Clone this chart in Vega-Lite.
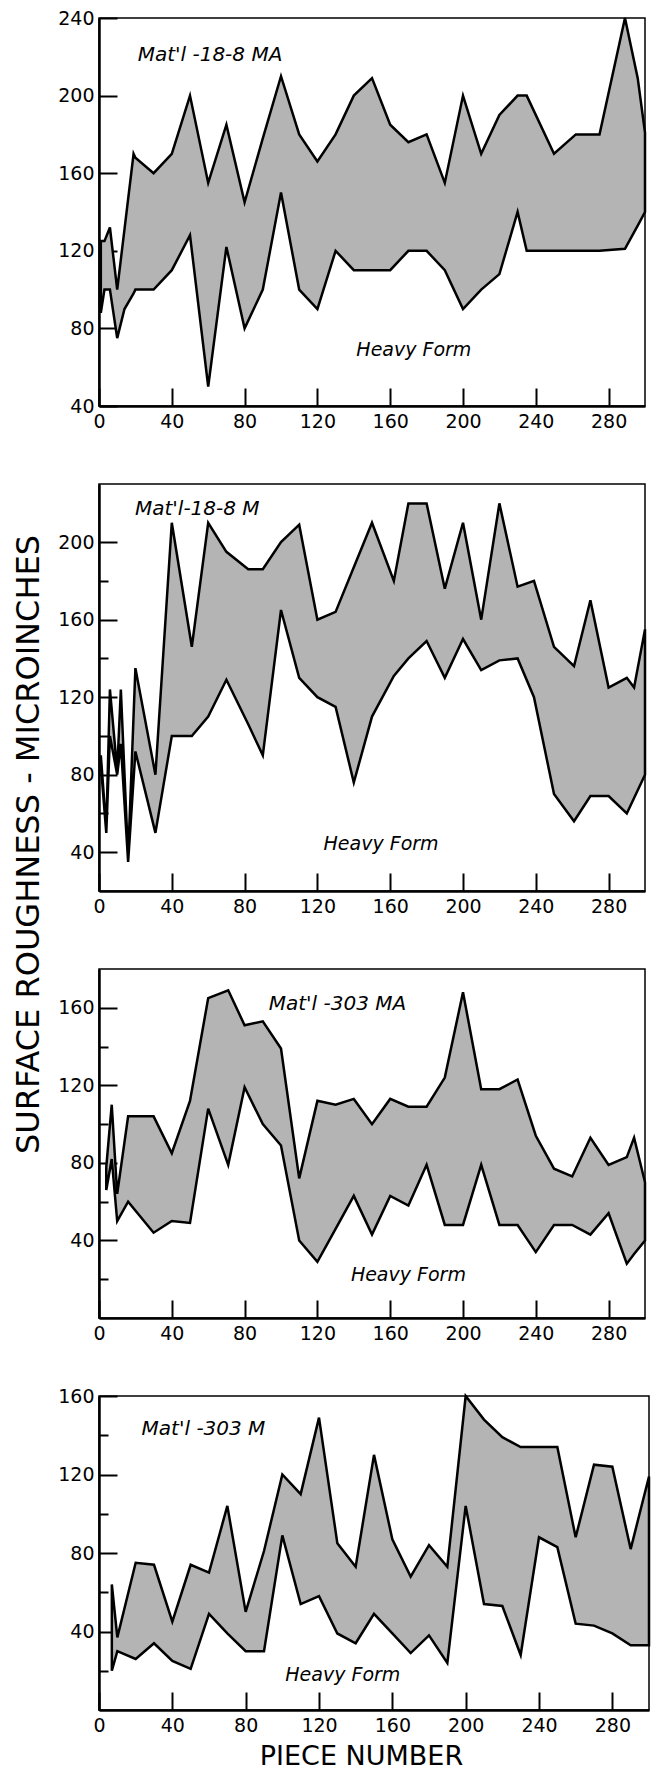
{
  "$schema": "https://vega.github.io/schema/vega-lite/v6.json",
  "background": "white",
  "padding": {"left": 11, "top": 8, "right": 2, "bottom": 4},
  "datasets": {
    "roughness": [
      {"material": "18-8 MA", "piece": 1, "low": 88, "high": 125},
      {"material": "18-8 MA", "piece": 3, "low": 100, "high": 125},
      {"material": "18-8 MA", "piece": 6, "low": 100, "high": 132},
      {"material": "18-8 MA", "piece": 10, "low": 75, "high": 100},
      {"material": "18-8 MA", "piece": 14, "low": 90, "high": 131},
      {"material": "18-8 MA", "piece": 19, "low": 98, "high": 170},
      {"material": "18-8 MA", "piece": 20, "low": 100, "high": 168},
      {"material": "18-8 MA", "piece": 30, "low": 100, "high": 160},
      {"material": "18-8 MA", "piece": 40, "low": 110, "high": 170},
      {"material": "18-8 MA", "piece": 50, "low": 128, "high": 200},
      {"material": "18-8 MA", "piece": 60, "low": 50, "high": 155},
      {"material": "18-8 MA", "piece": 70, "low": 122, "high": 185},
      {"material": "18-8 MA", "piece": 80, "low": 80, "high": 145},
      {"material": "18-8 MA", "piece": 90, "low": 100, "high": 178},
      {"material": "18-8 MA", "piece": 100, "low": 150, "high": 210},
      {"material": "18-8 MA", "piece": 110, "low": 100, "high": 180},
      {"material": "18-8 MA", "piece": 120, "low": 90, "high": 166},
      {"material": "18-8 MA", "piece": 130, "low": 120, "high": 180},
      {"material": "18-8 MA", "piece": 140, "low": 110, "high": 200},
      {"material": "18-8 MA", "piece": 150, "low": 110, "high": 209},
      {"material": "18-8 MA", "piece": 160, "low": 110, "high": 185},
      {"material": "18-8 MA", "piece": 170, "low": 120, "high": 176},
      {"material": "18-8 MA", "piece": 180, "low": 120, "high": 180},
      {"material": "18-8 MA", "piece": 190, "low": 110, "high": 155},
      {"material": "18-8 MA", "piece": 200, "low": 90, "high": 200},
      {"material": "18-8 MA", "piece": 210, "low": 100, "high": 170},
      {"material": "18-8 MA", "piece": 220, "low": 108, "high": 190},
      {"material": "18-8 MA", "piece": 230, "low": 140, "high": 200},
      {"material": "18-8 MA", "piece": 235, "low": 120, "high": 200},
      {"material": "18-8 MA", "piece": 250, "low": 120, "high": 170},
      {"material": "18-8 MA", "piece": 262, "low": 120, "high": 180},
      {"material": "18-8 MA", "piece": 275, "low": 120, "high": 180},
      {"material": "18-8 MA", "piece": 289, "low": 121, "high": 240},
      {"material": "18-8 MA", "piece": 296, "low": 133, "high": 209},
      {"material": "18-8 MA", "piece": 300, "low": 140, "high": 181},

      {"material": "18-8 M", "piece": 1, "low": 85, "high": 90},
      {"material": "18-8 M", "piece": 4, "low": 50, "high": 52},
      {"material": "18-8 M", "piece": 6, "low": 100, "high": 124},
      {"material": "18-8 M", "piece": 10, "low": 80, "high": 82},
      {"material": "18-8 M", "piece": 12, "low": 96, "high": 124},
      {"material": "18-8 M", "piece": 16, "low": 35, "high": 37},
      {"material": "18-8 M", "piece": 20, "low": 92, "high": 135},
      {"material": "18-8 M", "piece": 31, "low": 50, "high": 80},
      {"material": "18-8 M", "piece": 40, "low": 100, "high": 210},
      {"material": "18-8 M", "piece": 51, "low": 100, "high": 146},
      {"material": "18-8 M", "piece": 60, "low": 110, "high": 210},
      {"material": "18-8 M", "piece": 70, "low": 129, "high": 195},
      {"material": "18-8 M", "piece": 82, "low": 106, "high": 186},
      {"material": "18-8 M", "piece": 90, "low": 90, "high": 186},
      {"material": "18-8 M", "piece": 100, "low": 165, "high": 200},
      {"material": "18-8 M", "piece": 110, "low": 130, "high": 209},
      {"material": "18-8 M", "piece": 120, "low": 120, "high": 160},
      {"material": "18-8 M", "piece": 130, "low": 115, "high": 164},
      {"material": "18-8 M", "piece": 140, "low": 76, "high": 187},
      {"material": "18-8 M", "piece": 150, "low": 110, "high": 210},
      {"material": "18-8 M", "piece": 162, "low": 131, "high": 180},
      {"material": "18-8 M", "piece": 170, "low": 140, "high": 220},
      {"material": "18-8 M", "piece": 180, "low": 149, "high": 220},
      {"material": "18-8 M", "piece": 190, "low": 130, "high": 176},
      {"material": "18-8 M", "piece": 200, "low": 150, "high": 210},
      {"material": "18-8 M", "piece": 210, "low": 134, "high": 160},
      {"material": "18-8 M", "piece": 220, "low": 139, "high": 220},
      {"material": "18-8 M", "piece": 230, "low": 140, "high": 177},
      {"material": "18-8 M", "piece": 239, "low": 120, "high": 180},
      {"material": "18-8 M", "piece": 250, "low": 70, "high": 146},
      {"material": "18-8 M", "piece": 261, "low": 56, "high": 136},
      {"material": "18-8 M", "piece": 270, "low": 69, "high": 170},
      {"material": "18-8 M", "piece": 280, "low": 69, "high": 125},
      {"material": "18-8 M", "piece": 290, "low": 60, "high": 130},
      {"material": "18-8 M", "piece": 294, "low": 68, "high": 125},
      {"material": "18-8 M", "piece": 300, "low": 80, "high": 155},

      {"material": "303 MA", "piece": 4, "low": 66, "high": 78},
      {"material": "303 MA", "piece": 7, "low": 82, "high": 110},
      {"material": "303 MA", "piece": 10, "low": 50, "high": 64},
      {"material": "303 MA", "piece": 16, "low": 60, "high": 104},
      {"material": "303 MA", "piece": 30, "low": 44, "high": 104},
      {"material": "303 MA", "piece": 40, "low": 50, "high": 85},
      {"material": "303 MA", "piece": 50, "low": 49, "high": 112},
      {"material": "303 MA", "piece": 60, "low": 108, "high": 165},
      {"material": "303 MA", "piece": 71, "low": 79, "high": 169},
      {"material": "303 MA", "piece": 80, "low": 119, "high": 151},
      {"material": "303 MA", "piece": 90, "low": 100, "high": 153},
      {"material": "303 MA", "piece": 100, "low": 89, "high": 139},
      {"material": "303 MA", "piece": 110, "low": 40, "high": 72},
      {"material": "303 MA", "piece": 120, "low": 29, "high": 112},
      {"material": "303 MA", "piece": 130, "low": 46, "high": 110},
      {"material": "303 MA", "piece": 140, "low": 63, "high": 113},
      {"material": "303 MA", "piece": 150, "low": 43, "high": 100},
      {"material": "303 MA", "piece": 160, "low": 63, "high": 113},
      {"material": "303 MA", "piece": 170, "low": 58, "high": 109},
      {"material": "303 MA", "piece": 180, "low": 79, "high": 109},
      {"material": "303 MA", "piece": 190, "low": 48, "high": 124},
      {"material": "303 MA", "piece": 200, "low": 48, "high": 168},
      {"material": "303 MA", "piece": 210, "low": 79, "high": 118},
      {"material": "303 MA", "piece": 220, "low": 48, "high": 118},
      {"material": "303 MA", "piece": 230, "low": 48, "high": 123},
      {"material": "303 MA", "piece": 240, "low": 34, "high": 94},
      {"material": "303 MA", "piece": 250, "low": 48, "high": 77},
      {"material": "303 MA", "piece": 260, "low": 48, "high": 73},
      {"material": "303 MA", "piece": 270, "low": 43, "high": 93},
      {"material": "303 MA", "piece": 280, "low": 54, "high": 79},
      {"material": "303 MA", "piece": 290, "low": 28, "high": 83},
      {"material": "303 MA", "piece": 294, "low": 33, "high": 93},
      {"material": "303 MA", "piece": 300, "low": 40, "high": 70},

      {"material": "303 M", "piece": 7, "low": 20, "high": 64},
      {"material": "303 M", "piece": 10, "low": 30, "high": 37},
      {"material": "303 M", "piece": 20, "low": 26, "high": 75},
      {"material": "303 M", "piece": 30, "low": 34, "high": 74},
      {"material": "303 M", "piece": 40, "low": 25, "high": 45},
      {"material": "303 M", "piece": 50, "low": 21, "high": 74},
      {"material": "303 M", "piece": 60, "low": 49, "high": 70},
      {"material": "303 M", "piece": 70, "low": 39, "high": 104},
      {"material": "303 M", "piece": 80, "low": 30, "high": 50},
      {"material": "303 M", "piece": 90, "low": 30, "high": 81},
      {"material": "303 M", "piece": 100, "low": 89, "high": 120},
      {"material": "303 M", "piece": 110, "low": 54, "high": 110},
      {"material": "303 M", "piece": 120, "low": 58, "high": 149},
      {"material": "303 M", "piece": 130, "low": 39, "high": 85},
      {"material": "303 M", "piece": 140, "low": 34, "high": 73},
      {"material": "303 M", "piece": 150, "low": 49, "high": 130},
      {"material": "303 M", "piece": 160, "low": 39, "high": 87},
      {"material": "303 M", "piece": 170, "low": 29, "high": 68},
      {"material": "303 M", "piece": 180, "low": 38, "high": 84},
      {"material": "303 M", "piece": 190, "low": 24, "high": 73},
      {"material": "303 M", "piece": 200, "low": 104, "high": 160},
      {"material": "303 M", "piece": 210, "low": 54, "high": 148},
      {"material": "303 M", "piece": 220, "low": 53, "high": 139},
      {"material": "303 M", "piece": 230, "low": 28, "high": 134},
      {"material": "303 M", "piece": 240, "low": 88, "high": 134},
      {"material": "303 M", "piece": 250, "low": 83, "high": 134},
      {"material": "303 M", "piece": 260, "low": 44, "high": 88},
      {"material": "303 M", "piece": 270, "low": 43, "high": 125},
      {"material": "303 M", "piece": 280, "low": 39, "high": 124},
      {"material": "303 M", "piece": 290, "low": 33, "high": 82},
      {"material": "303 M", "piece": 300, "low": 33, "high": 119}
    ]
  },
  "config": {
    "view": {"stroke": "black", "strokeWidth": 1.5},
    "axis": {
      "grid": false,
      "domain": true,
      "domainColor": "black",
      "domainWidth": 2.5,
      "tickColor": "black",
      "tickWidth": 2,
      "labelColor": "black",
      "labelFont": "DejaVu Sans",
      "labelFontSize": 19,
      "labelFlush": false,
      "labelOverlap": false,
      "titleColor": "black",
      "titleFont": "DejaVu Sans",
      "titleFontWeight": "normal",
      "zindex": 1
    },
    "axisX": {"labelPadding": 24, "labelExpr": "datum.value % 40 === 0 ? datum.label : ''", "tickSize": {"condition": {"test": "datum.value % 40 === 0", "value": -18}, "value": -9}},
    "axisY": {"labelPadding": 23, "labelExpr": "datum.value % 40 === 0 ? datum.label : ''", "tickSize": {"condition": {"test": "datum.value % 40 === 0", "value": -18}, "value": -9}},
    "text": {"font": "DejaVu Sans", "fontStyle": "italic", "color": "black", "align": "center", "baseline": "middle"}
  },
  "bounds": "flush",
  "spacing": 78,
  "vconcat": [
    {
      "width": 546,
      "height": 388,
      "layer": [
        {
          "data": {"name": "roughness"},
          "transform": [{"filter": "datum.material === '18-8 MA'"}],
          "mark": {"type": "area", "fill": "#b4b4b4", "stroke": "black", "strokeWidth": 2.5, "strokeJoin": "miter"},
          "encoding": {
            "x": {"field": "piece", "type": "quantitative", "scale": {"domain": [0, 300], "nice": false, "zero": false},
                  "axis": {"title": null, "values": [0, 20, 40, 60, 80, 100, 120, 140, 160, 180, 200, 220, 240, 260, 280]}},
            "y": {"field": "low", "type": "quantitative", "scale": {"domain": [40, 240], "nice": false, "zero": false},
                  "axis": {"title": null, "values": [40, 60, 80, 100, 120, 140, 160, 180, 200, 220, 240]}},
            "y2": {"field": "high"}
          }
        },
        {
          "data": {"values": [{"note": "Mat'l -18-8 MA"}]},
          "mark": {"type": "text", "fontSize": 20},
          "encoding": {"x": {"datum": 61, "type": "quantitative"}, "y": {"datum": 221, "type": "quantitative"}, "text": {"field": "note"}}
        },
        {
          "data": {"values": [{"note": "Heavy Form"}]},
          "mark": {"type": "text", "fontSize": 19},
          "encoding": {"x": {"datum": 173, "type": "quantitative"}, "y": {"datum": 69, "type": "quantitative"}, "text": {"field": "note"}}
        }
      ]
    },
    {
      "width": 546,
      "height": 407,
      "layer": [
        {
          "data": {"name": "roughness"},
          "transform": [{"filter": "datum.material === '18-8 M'"}],
          "mark": {"type": "area", "fill": "#b4b4b4", "stroke": "black", "strokeWidth": 2.5, "strokeJoin": "miter"},
          "encoding": {
            "x": {"field": "piece", "type": "quantitative", "scale": {"domain": [0, 300], "nice": false, "zero": false},
                  "axis": {"title": null, "values": [0, 20, 40, 60, 80, 100, 120, 140, 160, 180, 200, 220, 240, 260, 280]}},
            "y": {"field": "low", "type": "quantitative", "scale": {"domain": [20, 230], "nice": false, "zero": false},
                  "axis": {"title": "SURFACE ROUGHNESS - MICROINCHES", "titleFontSize": 32, "titleX": -71, "titleY": 360, "titleAngle": -90, "titleAlign": "center", "titleBaseline": "middle",
                           "values": [40, 60, 80, 100, 120, 140, 160, 180, 200]}},
            "y2": {"field": "high"}
          }
        },
        {
          "data": {"values": [{"note": "Mat'l-18-8 M"}]},
          "mark": {"type": "text", "fontSize": 20},
          "encoding": {"x": {"datum": 54, "type": "quantitative"}, "y": {"datum": 217, "type": "quantitative"}, "text": {"field": "note"}}
        },
        {
          "data": {"values": [{"note": "Heavy Form"}]},
          "mark": {"type": "text", "fontSize": 19},
          "encoding": {"x": {"datum": 155, "type": "quantitative"}, "y": {"datum": 44, "type": "quantitative"}, "text": {"field": "note"}}
        }
      ]
    },
    {
      "width": 546,
      "height": 349,
      "layer": [
        {
          "data": {"name": "roughness"},
          "transform": [{"filter": "datum.material === '303 MA'"}],
          "mark": {"type": "area", "fill": "#b4b4b4", "stroke": "black", "strokeWidth": 2.5, "strokeJoin": "miter"},
          "encoding": {
            "x": {"field": "piece", "type": "quantitative", "scale": {"domain": [0, 300], "nice": false, "zero": false},
                  "axis": {"title": null, "values": [0, 20, 40, 60, 80, 100, 120, 140, 160, 180, 200, 220, 240, 260, 280]}},
            "y": {"field": "low", "type": "quantitative", "scale": {"domain": [0, 180], "nice": false, "zero": false},
                  "axis": {"title": null, "values": [20, 40, 60, 80, 100, 120, 140, 160]}},
            "y2": {"field": "high"}
          }
        },
        {
          "data": {"values": [{"note": "Mat'l -303 MA"}]},
          "mark": {"type": "text", "fontSize": 20},
          "encoding": {"x": {"datum": 131, "type": "quantitative"}, "y": {"datum": 162, "type": "quantitative"}, "text": {"field": "note"}}
        },
        {
          "data": {"values": [{"note": "Heavy Form"}]},
          "mark": {"type": "text", "fontSize": 19},
          "encoding": {"x": {"datum": 170, "type": "quantitative"}, "y": {"datum": 22, "type": "quantitative"}, "text": {"field": "note"}}
        }
      ]
    },
    {
      "width": 550,
      "height": 314,
      "layer": [
        {
          "data": {"name": "roughness"},
          "transform": [{"filter": "datum.material === '303 M'"}],
          "mark": {"type": "area", "fill": "#b4b4b4", "stroke": "black", "strokeWidth": 2.5, "strokeJoin": "miter"},
          "encoding": {
            "x": {"field": "piece", "type": "quantitative", "scale": {"domain": [0, 300], "nice": false, "zero": false},
                  "axis": {"title": "PIECE NUMBER", "titleFontSize": 27, "titleX": 262, "titleY": 46, "titleAlign": "center", "titleBaseline": "middle",
                           "values": [0, 20, 40, 60, 80, 100, 120, 140, 160, 180, 200, 220, 240, 260, 280]}},
            "y": {"field": "low", "type": "quantitative", "scale": {"domain": [0, 160], "nice": false, "zero": false},
                  "axis": {"title": null, "values": [20, 40, 60, 80, 100, 120, 140, 160]}},
            "y2": {"field": "high"}
          }
        },
        {
          "data": {"values": [{"note": "Mat'l -303 M"}]},
          "mark": {"type": "text", "fontSize": 20},
          "encoding": {"x": {"datum": 57, "type": "quantitative"}, "y": {"datum": 143, "type": "quantitative"}, "text": {"field": "note"}}
        },
        {
          "data": {"values": [{"note": "Heavy Form"}]},
          "mark": {"type": "text", "fontSize": 19},
          "encoding": {"x": {"datum": 133, "type": "quantitative"}, "y": {"datum": 18, "type": "quantitative"}, "text": {"field": "note"}}
        }
      ]
    }
  ]
}
